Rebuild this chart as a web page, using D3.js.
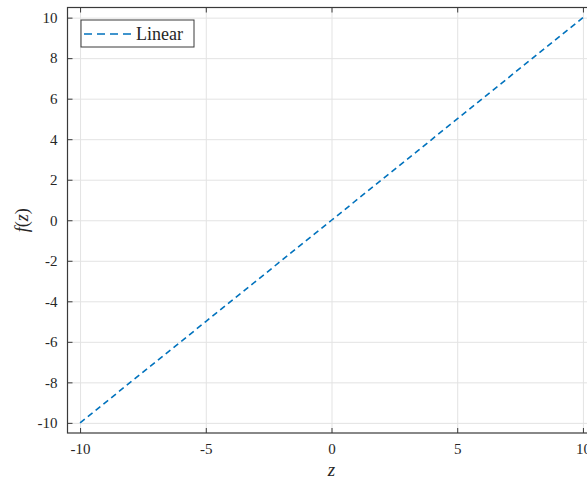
<!DOCTYPE html>
<html>
<head>
<meta charset="utf-8">
<script src="https://cdn.jsdelivr.net/npm/d3@7"></script>
<style>
  body { margin: 0; background: #fff; }
  svg { display: block; }
  text { font-family: "Liberation Serif", "DejaVu Serif", serif; fill: #262626; }
  .grid line { stroke: #e3e3e3; stroke-width: 1; }
  .grid path { display: none; }
</style>
</head>
<body>
<svg width="587" height="480"></svg>
<script>
// data
var zValues = [-10, -5, 0, 5, 10];
var fValues = [-10, -5, 0, 5, 10];
var xTicks = [-10, -5, 0, 5, 10];
var yTicks = [-10, -8, -6, -4, -2, 0, 2, 4, 6, 8, 10];
var seriesName = "Linear";

var svg = d3.select("svg"),
    margin = {top: 7.5, left: 67.5},
    width = 528,
    height = 425.5,
    g = svg.append("g").attr("transform", "translate(" + margin.left + "," + margin.top + ")");

var x = d3.scaleLinear().domain([-10.5, 10.5]).range([0, width]),
    y = d3.scaleLinear().domain([-10.5, 10.5]).range([height, 0]);

var pts = zValues.map(function(v, i) { return {z: v, f: fValues[i]}; });

// plain hyphen like the original, not a unicode minus
var fmt = function(d) { return String(d); };

// grid
g.append("g").attr("class", "grid")
    .attr("transform", "translate(0," + height + ")")
    .call(d3.axisBottom(x).tickValues(xTicks).tickSize(-height).tickFormat(""));
g.append("g").attr("class", "grid")
    .call(d3.axisLeft(y).tickValues(yTicks).tickSize(-width).tickFormat(""));

// line
var line = d3.line()
    .x(function(d) { return x(d.z); })
    .y(function(d) { return y(d.f); });

g.append("path")
    .datum(pts)
    .attr("d", line)
    .attr("fill", "none")
    .attr("stroke", "#0072BD")
    .attr("stroke-width", 1.6)
    .attr("stroke-dasharray", "6,4");

// box with inward ticks
var axisColor = "#3a3a3a";
function styleAxis(sel) {
  sel.select(".domain").remove();
  sel.selectAll(".tick line").attr("stroke", axisColor).attr("stroke-width", 1);
  sel.selectAll(".tick text").attr("font-size", "15px").style("font-family", "Liberation Serif, DejaVu Serif, serif").attr("fill", "#262626");
}

var xAx = g.append("g")
    .attr("transform", "translate(0," + height + ")")
    .call(d3.axisBottom(x).tickValues(xTicks).tickFormat(fmt).tickSize(-5).tickPadding(10));
styleAxis(xAx);

var yAx = g.append("g")
    .call(d3.axisLeft(y).tickValues(yTicks).tickFormat(fmt).tickSize(-5).tickPadding(10));
styleAxis(yAx);

var xTop = g.append("g")
    .call(d3.axisTop(x).tickValues(xTicks).tickSize(-5).tickFormat(""));
styleAxis(xTop);

var yRight = g.append("g")
    .attr("transform", "translate(" + width + ",0)")
    .call(d3.axisRight(y).tickValues(yTicks).tickSize(-5).tickFormat(""));
styleAxis(yRight);

g.append("rect")
    .attr("width", width).attr("height", height)
    .attr("fill", "none")
    .attr("stroke", axisColor)
    .attr("stroke-width", 1.2);

// axis labels
svg.append("text")
    .attr("x", margin.left + x(0))
    .attr("y", 476)
    .attr("text-anchor", "middle")
    .attr("font-size", "19px")
    .attr("font-style", "italic")
    .text("z");

svg.append("text")
    .attr("transform", "translate(28," + (margin.top + y(0)) + ") rotate(-90)")
    .attr("text-anchor", "middle")
    .attr("font-size", "18px")
    .html('<tspan font-style="italic">f</tspan>(<tspan font-style="italic">z</tspan>)');

// legend
var leg = g.append("g").attr("transform", "translate(13.5,12.5)");
leg.append("rect")
    .attr("width", 113).attr("height", 27)
    .attr("fill", "#fff")
    .attr("stroke", axisColor)
    .attr("stroke-width", 1);
leg.append("line")
    .attr("x1", 3).attr("x2", 53)
    .attr("y1", 14).attr("y2", 14)
    .attr("stroke", "#0072BD")
    .attr("stroke-width", 1.6)
    .attr("stroke-dasharray", "8,5");
leg.append("text")
    .attr("x", 55).attr("y", 20)
    .attr("font-size", "18px")
    .text(seriesName);
</script>
</body>
</html>
